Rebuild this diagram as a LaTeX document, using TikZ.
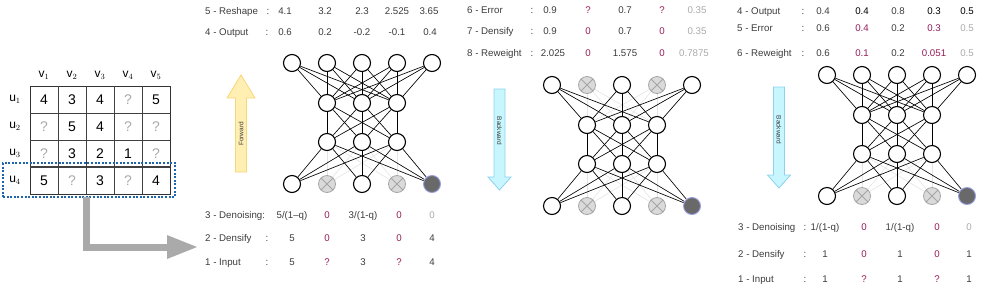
\documentclass[tikz,border=0pt]{standalone}
\usepackage{fontspec}
\setmainfont{Liberation Sans}
\usetikzlibrary{backgrounds}
\definecolor{tgray}{RGB}{60,60,60}
\definecolor{purp}{RGB}{150,28,88}
\definecolor{lgt}{RGB}{170,170,170}
\definecolor{xgray}{RGB}{165,165,165}
\definecolor{xfill}{RGB}{218,218,218}
\definecolor{dfill}{RGB}{105,105,105}
\definecolor{dborder}{RGB}{150,160,225}
\definecolor{edgegray}{RGB}{228,228,228}
\definecolor{fwdfill}{RGB}{255,239,178}
\definecolor{fwddraw}{RGB}{246,214,120}
\definecolor{bwdfill}{RGB}{200,246,255}
\definecolor{bwddraw}{RGB}{140,210,240}
\definecolor{boxblue}{RGB}{30,100,170}
\definecolor{arrgray}{RGB}{170,170,170}
\newcommand\lbl{\fontsize{9.7}{11}\selectfont}
\newcommand\mynet[3]{%
 \begin{scope}[shift={#2}]
  \foreach \i in {1,...,5}{%
    \ifodd\i \def\tst{nn}\else \ifnum#3=1 \def\tst{xn}\else\def\tst{nn}\fi\fi
    \node[\tst] (#1t\i) at ({(\i-1)*35},0) {};
    \ifodd\i \def\bst{nn}\else\def\bst{xn}\fi
    \ifnum\i=5 \def\bst{dn}\fi
    \node[\bst] (#1b\i) at ({(\i-1)*35},121) {};
  }
  \foreach \j in {2,3,4}{%
    \node[nn] (#1h\j) at ({(\j-1)*35},40) {};
    \node[nn] (#1g\j) at ({(\j-1)*35},79) {};
  }
  \begin{pgfonlayer}{background}
  \foreach \i in {2,4}\foreach \j in {2,3,4}{%
    \ifnum#3=1 \draw[ged] (#1t\i) -- (#1h\j);\fi
    \draw[ged] (#1b\i) -- (#1g\j);
  }
  \foreach \i in {1,...,5}\foreach \j in {2,3,4}{%
    \ifodd\i \draw[ed] (#1t\i) -- (#1h\j);\draw[ed] (#1b\i) -- (#1g\j);
    \else \ifnum#3=0 \draw[ed] (#1t\i) -- (#1h\j);\fi\fi
  }
  \foreach \i in {2,3,4}\foreach \j in {2,3,4}{\draw[ed] (#1h\i) -- (#1g\j);}
  \end{pgfonlayer}
 \end{scope}}
\begin{document}
\begin{tikzpicture}[x=1pt,y=-1pt,
  nn/.style={circle,draw=black,fill=white,line width=1.1pt,minimum size=17pt,inner sep=0pt},
  xn/.style={circle,draw=xgray,fill=xfill,line width=0.8pt,minimum size=17pt,inner sep=0pt,
    path picture={\draw[xgray,line width=0.8pt] (path picture bounding box.north east) -- (path picture bounding box.south west) (path picture bounding box.north west) -- (path picture bounding box.south east);}},
  dn/.style={circle,draw=dborder,fill=dfill,line width=0.9pt,minimum size=17pt,inner sep=0pt},
  ed/.style={draw=black,line width=0.65pt},
  ged/.style={draw=edgegray,line width=0.6pt},
  lab/.style={anchor=base west,font=\lbl,text=tgray,inner sep=0pt},
  val/.style={anchor=base,font=\lbl,text=tgray,inner sep=0pt},
  pv/.style={val,text=purp},
  gv/.style={val,text=lgt},
  kv/.style={val,text=black},
  cl/.style={anchor=base,font=\lbl,text=tgray,inner sep=0pt},
  mv/.style={font=\fontsize{14}{16}\selectfont,text=black,inner sep=0pt},
  mq/.style={font=\fontsize{14}{16}\selectfont,text=lgt,inner sep=0pt},
  hl/.style={font=\fontsize{12}{13}\selectfont,text=black,inner sep=0pt},
  bigarrow/.style={line width=0.8pt,line join=miter},
  atext/.style={font=\fontsize{6.5}{7}\selectfont,text=tgray,inner sep=0pt}
]
\useasboundingbox (0,0) rectangle (981,290);

% ---------- rating matrix ----------
\foreach \k/\x in {1/44,2/72,3/100,4/128,5/156}{\node[hl] (v\k) at (\x,75) {v$_{\k}$};}
\foreach \k/\y in {1/99.5,2/126.5,3/153.5,4/180.5}{\node[hl] (u\k) at (15,\y) {u$_{\k}$};}
\draw[line width=0.9pt,black!80] (30,86) rectangle (170,194);
\foreach \x in {58,86,114,142}{\draw[line width=0.8pt,black!75] (\x,86) -- (\x,194);}
\foreach \y in {113,140}{\draw[line width=0.8pt,black!75] (30,\y) -- (170,\y);}
\draw[line width=1.4pt,black!75] (30,167) -- (170,167);
\foreach \r/\y/\vals in {1/99.5/{4,3,4,?,5},2/126.5/{?,5,4,?,?},3/153.5/{?,3,2,1,?},4/180.5/{5,?,3,?,4}}{
  \foreach \v [count=\c] in \vals {
    \pgfmathsetmacro\xx{16+28*\c}
    \if\v?\node[mq] (m\r\c) at (\xx,\y) {?};\else\node[mv] (m\r\c) at (\xx,\y) {\v};\fi
  }
}
\node[draw=boxblue,line width=1.3pt,dash pattern=on 2pt off 1.6pt,minimum width=172pt,minimum height=34pt,inner sep=0pt] (sel) at (89,180) {};
\coordinate (selout) at (86,197);
\coordinate (bend) at (86,247);
\coordinate (tip) at (197,247);
\draw[arrgray,line width=7pt] (selout) -- (bend) -- (168,247);
\fill[arrgray] (167,235) -- (tip) -- (167,259) -- cycle;

% ---------- panel 1 ----------
\node[lab] (p1l5) at (205,14) {5 - Reshape};
\node[cl] (p1c5) at (268,14) {:};
\node[lab] (p1l4) at (205,35) {4 - Output};
\node[cl] (p1c4) at (267,35) {:};
\foreach \v [count=\c] in {4.1,3.2,2.3,2.525,3.65}{
  \pgfmathsetmacro\xx{{285,325,362,397,429}[\c-1]}
  \node[val] (p1r\c) at (\xx,14) {\v};}
\foreach \v [count=\c] in {0.6,0.2,-0.2,-0.1,0.4}{
  \pgfmathsetmacro\xx{{285,325,362,397,430}[\c-1]}
  \node[val] (p1o\c) at (\xx,35) {\v};}

\node[lab] (p1l3) at (205,218) {3 - Denoising:};
\node[lab] (p1l2) at (205,241) {2 - Densify};
\node[cl] (p1c2) at (267,241) {:};
\node[lab] (p1l1) at (205,265) {1 - Input};
\node[cl] (p1c1) at (267,265) {:};
\node[val] (p1d1) at (292,218) {5/(1\textendash q)};
\node[pv]  (p1d2) at (327,218) {0};
\node[val] (p1d3) at (363,218) {3/(1-q)};
\node[pv]  (p1d4) at (399,218) {0};
\node[gv]  (p1d5) at (432,218) {0};
\node[val] (p1s1) at (292,241) {5};
\node[pv]  (p1s2) at (327,241) {0};
\node[val] (p1s3) at (363,241) {3};
\node[pv]  (p1s4) at (399,241) {0};
\node[val] (p1s5) at (432,241) {4};
\node[val] (p1i1) at (292,265) {5};
\node[pv]  (p1i2) at (327,265) {?};
\node[val] (p1i3) at (363,265) {3};
\node[pv]  (p1i4) at (399,265) {?};
\node[val] (p1i5) at (432,265) {4};

\draw[bigarrow,fill=fwdfill,draw=fwddraw] (235.5,172) -- (235.5,98) -- (227,98) -- (241,75) -- (255,98) -- (246.5,98) -- (246.5,172) -- cycle;
\node[atext,rotate=90] (fwd) at (241,134) {Forward};

\mynet{a}{(292,63)}{0}

% ---------- panel 2 ----------
\node[lab] (p2l6) at (467,13) {6 - Error};
\node[cl] (p2c6) at (532,13) {:};
\node[lab] (p2l7) at (467,34) {7 - Densify};
\node[cl] (p2c7) at (532,34) {:};
\node[lab] (p2l8) at (467,56) {8 - Reweight};
\node[cl] (p2c8) at (532,56) {:};
\node[val] (p2e1) at (550,13) {0.9};
\node[pv]  (p2e2) at (588,13) {?};
\node[val] (p2e3) at (625,13) {0.7};
\node[pv]  (p2e4) at (662,13) {?};
\node[gv]  (p2e5) at (697,13) {0.35};
\node[val] (p2s1) at (550,34) {0.9};
\node[pv]  (p2s2) at (588,34) {0};
\node[val] (p2s3) at (625,34) {0.7};
\node[pv]  (p2s4) at (662,34) {0};
\node[gv]  (p2s5) at (697,34) {0.35};
\node[val] (p2w1) at (553,56) {2.025};
\node[pv]  (p2w2) at (588,56) {0};
\node[val] (p2w3) at (625,56) {1.575};
\node[pv]  (p2w4) at (662,56) {0};
\node[gv]  (p2w5) at (694,56) {0.7875};

\draw[bigarrow,fill=bwdfill,draw=bwddraw] (494,89) -- (494,177) -- (488,177) -- (499.5,190) -- (511,177) -- (505,177) -- (505,89) -- cycle;
\node[atext,rotate=-90] (bwd1) at (499.5,131) {Backward};

\mynet{b}{(552,85)}{1}

% ---------- panel 3 ----------
\node[lab] (p3l4) at (737,14) {4 - Output};
\node[cl] (p3c4) at (803,14) {:};
\node[lab] (p3l5) at (737,31) {5 - Error};
\node[cl] (p3c5) at (803,31) {:};
\node[lab] (p3l6) at (737,56) {6 - Reweight};
\node[cl] (p3c6) at (803,56) {:};
\node[val] (p3o1) at (823,14) {0.4};
\node[kv]  (p3o2) at (862,14) {0.4};
\node[val] (p3o3) at (898,14) {0.8};
\node[kv]  (p3o4) at (934,14) {0.3};
\node[kv]  (p3o5) at (967,14) {0.5};
\node[val] (p3e1) at (823,31) {0.6};
\node[pv]  (p3e2) at (862,31) {0.4};
\node[val] (p3e3) at (898,31) {0.2};
\node[pv]  (p3e4) at (934,31) {0.3};
\node[gv]  (p3e5) at (967,31) {0.5};
\node[val] (p3w1) at (823,56) {0.6};
\node[pv]  (p3w2) at (862,56) {0.1};
\node[val] (p3w3) at (898,56) {0.2};
\node[pv]  (p3w4) at (934,56) {0.051};
\node[gv]  (p3w5) at (967,56) {0.5};

\node[lab] (p3l3) at (738,230) {3 - Denoising};
\node[cl] (p3c3) at (805,230) {:};
\node[lab] (p3l2) at (738,257) {2 - Densify};
\node[cl] (p3c2) at (805,257) {:};
\node[lab] (p3l1) at (738,282) {1 - Input};
\node[cl] (p3c1) at (805,282) {:};
\node[val] (p3d1) at (825,230) {1/(1-q)};
\node[pv]  (p3d2) at (864,230) {0};
\node[val] (p3d3) at (900,230) {1/(1-q)};
\node[pv]  (p3d4) at (937,230) {0};
\node[gv]  (p3d5) at (969,230) {0};
\node[val] (p3s1) at (825,257) {1};
\node[pv]  (p3s2) at (864,257) {0};
\node[val] (p3s3) at (900,257) {1};
\node[pv]  (p3s4) at (937,257) {0};
\node[val] (p3s5) at (969,257) {1};
\node[val] (p3i1) at (825,282) {1};
\node[pv]  (p3i2) at (864,282) {?};
\node[val] (p3i3) at (900,282) {1};
\node[pv]  (p3i4) at (937,282) {?};
\node[val] (p3i5) at (969,282) {1};

\draw[bigarrow,fill=bwdfill,draw=bwddraw] (773.5,87) -- (773.5,175) -- (767.5,175) -- (779,188) -- (790.5,175) -- (784.5,175) -- (784.5,87) -- cycle;
\node[atext,rotate=-90] (bwd2) at (779,130) {Backward};

\mynet{c}{(827,75)}{0}
\end{tikzpicture}
\end{document}
